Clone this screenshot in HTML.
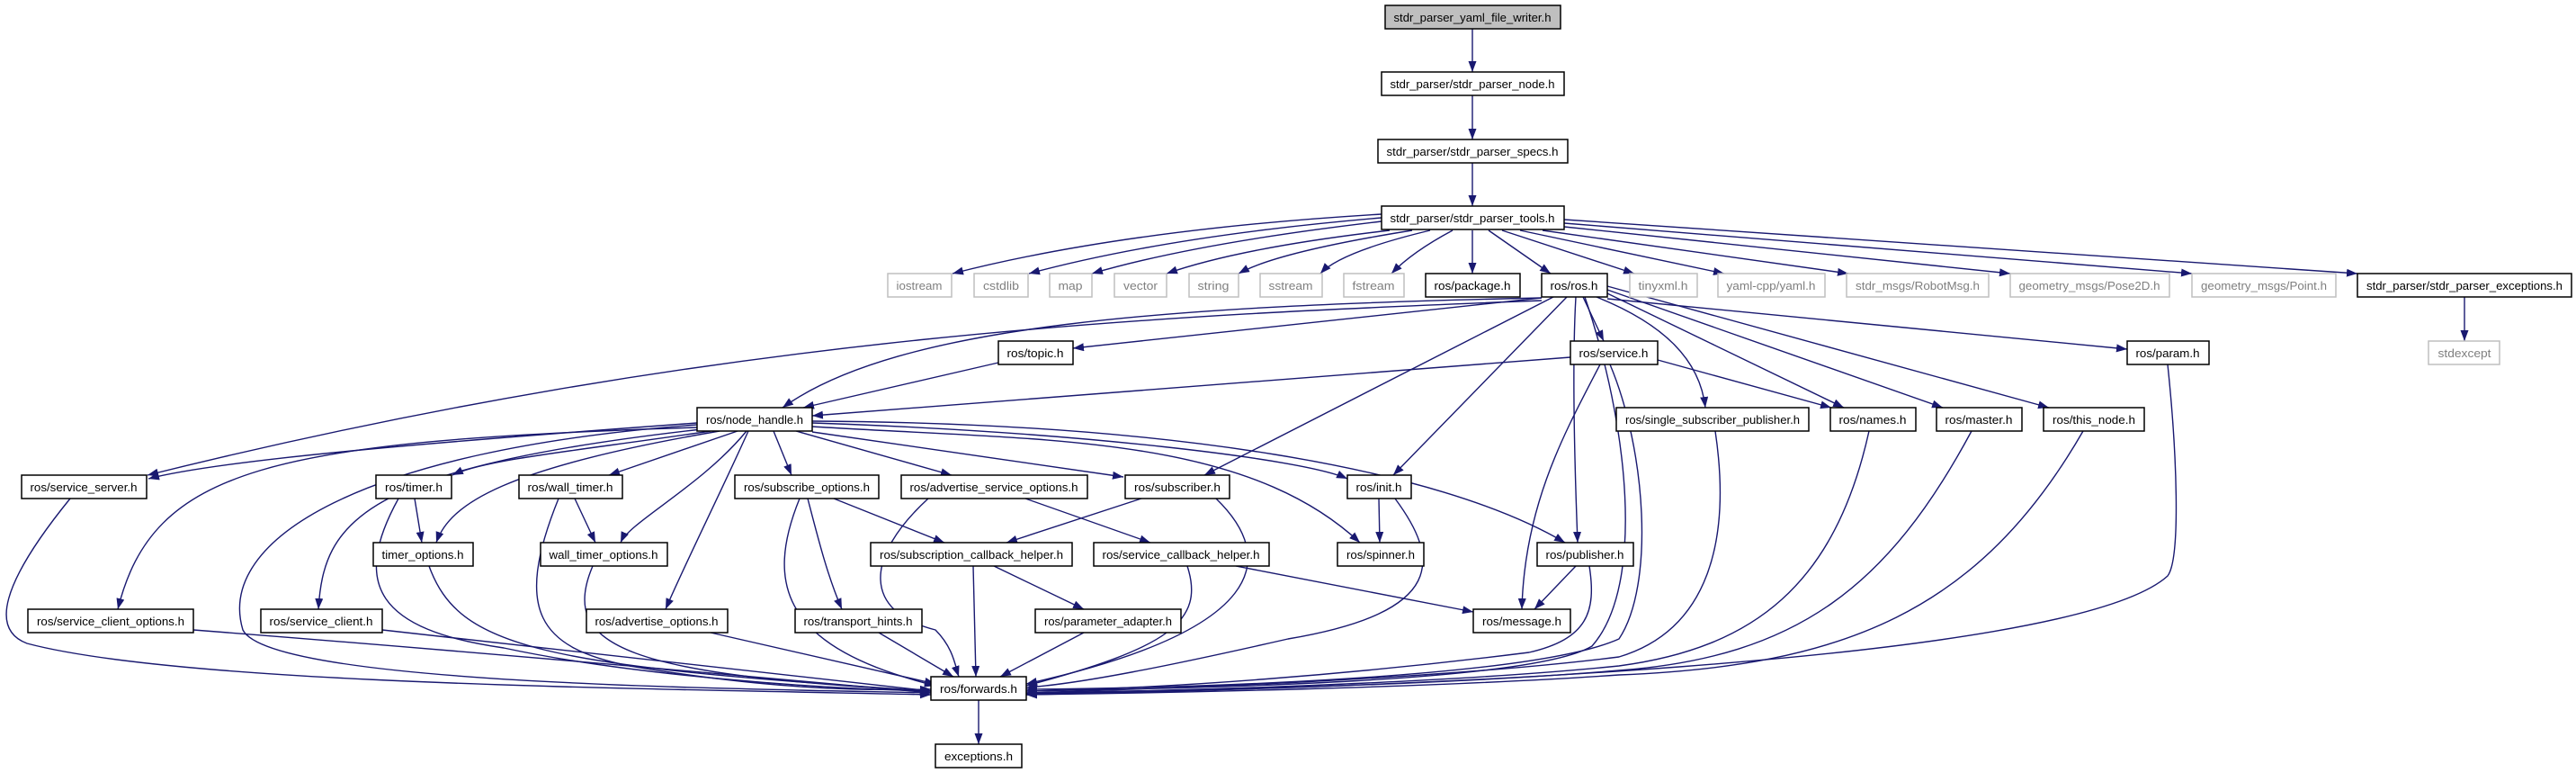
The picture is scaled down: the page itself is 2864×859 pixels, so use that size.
<!DOCTYPE html>
<html><head><meta charset="utf-8"><style>
html,body{margin:0;padding:0;background:#fff;}
svg{display:block;}
text{font-family:"Liberation Sans",Arial,sans-serif;font-size:13px;}
</style></head><body>
<svg width="2864" height="859" viewBox="0 0 2864 859" xmlns="http://www.w3.org/2000/svg">
<defs>
<marker id="a" markerUnits="userSpaceOnUse" markerWidth="14" markerHeight="10" refX="12" refY="4.5" orient="auto">
<path d="M0,0 L12,4.5 L0,9 z" fill="#191970"/>
</marker>
</defs>
<g fill="none" stroke="#191970" stroke-width="1.4" marker-end="url(#a)">
<path d="M1637,32 L1637,80"/>
<path d="M1637,106 L1637,155"/>
<path d="M1637,181 L1637,229"/>
<!-- tools -->
<path d="M1536,238 Q1250,255 1059,304"/>
<path d="M1536,242 Q1300,262 1144,304"/>
<path d="M1536,246 Q1330,270 1214,304"/>
<path d="M1545,256 Q1380,275 1297,304"/>
<path d="M1570,256 Q1420,280 1377,304"/>
<path d="M1590,256 Q1490,280 1468,304"/>
<path d="M1615,256 Q1570,280 1547,304"/>
<path d="M1637,256 L1637,304"/>
<path d="M1655,256 L1724,304"/>
<path d="M1670,256 L1817,304"/>
<path d="M1690,256 L1917,304"/>
<path d="M1715,256 L2055,304"/>
<path d="M1739,252 L2235,304"/>
<path d="M1739,248 L2437,304"/>
<path d="M1739,244 L2621,304"/>
<path d="M2740,330 L2740,379"/>
<!-- ros.h -->
<path d="M1714,331 Q1400,365 1193,387"/>
<path d="M1714,331 C1300,340 1000,360 870,453"/>
<path d="M1714,334 C1300,350 800,370 164,528"/>
<path d="M1760,330 L1783,379"/>
<path d="M1787,332 L2365,388"/>
<path d="M1727,330 L1339,528"/>
<path d="M1742,330 L1549,528"/>
<path d="M1752,330 C1748,400 1750,500 1754,603"/>
<path d="M1775,330 C1850,360 1890,400 1896,453"/>
<path d="M1787,326 L2050,453"/>
<path d="M1787,322 L2160,453"/>
<path d="M1787,318 L2278,453"/>
<path d="M1762,330 C1810,470 1830,650 1770,718 C1700,760 1300,765 1141,768"/>
<!-- topic/service -->
<path d="M1110,403 L893,453"/>
<path d="M1746,397 L903,462"/>
<path d="M1843,400 L2036,453"/>
<path d="M1779,405 C1740,480 1695,560 1692,677"/>
<path d="M1790,405 C1830,500 1840,650 1800,710 C1700,755 1300,765 1141,766"/>
<path d="M2410,405 C2420,500 2425,620 2410,640 C2300,740 1500,765 1141,772"/>
<!-- node_handle -->
<path d="M775,470 C500,490 250,510 165,532"/>
<path d="M790,479 C650,500 540,510 503,528"/>
<path d="M820,479 L677,528"/>
<path d="M860,479 L880,528"/>
<path d="M885,479 L1058,528"/>
<path d="M903,480 L1249,530"/>
<path d="M903,470 C1200,480 1450,510 1498,532"/>
<path d="M903,474 C1150,490 1380,480 1512,603"/>
<path d="M903,468 C1300,470 1600,520 1740,603"/>
<path d="M775,475 C300,490 170,520 131,677"/>
<path d="M780,477 C400,520 360,580 354,677"/>
<path d="M800,479 C560,520 500,560 485,603"/>
<path d="M830,479 C780,540 700,580 690,603"/>
<path d="M832,479 C800,550 760,630 740,677"/>
<path d="M775,472 C400,500 240,600 270,700 C300,760 800,765 1035,770"/>
<!-- row7 -->
<path d="M78,554 C0,650 -10,700 30,715 C200,760 700,765 1035,772"/>
<path d="M461,554 L469,603"/>
<path d="M443,554 C390,650 420,700 560,720 C700,750 900,765 1035,768"/>
<path d="M639,554 L662,603"/>
<path d="M621,554 C570,680 600,720 700,740 C850,765 950,768 1035,766"/>
<path d="M927,554 L1050,603"/>
<path d="M898,554 C910,600 920,640 936,677"/>
<path d="M889,554 C850,650 870,720 1040,762"/>
<path d="M1140,554 L1279,603"/>
<path d="M1032,554 C960,620 960,680 1040,700 C1060,720 1062,740 1066,752"/>
<path d="M1269,554 L1119,603"/>
<path d="M1352,554 C1420,620 1410,700 1141,760"/>
<path d="M1533,554 L1534,603"/>
<path d="M1551,554 C1600,620 1610,680 1432,710 C1300,740 1200,760 1141,764"/>
<!-- row8 -->
<path d="M1105,629 L1205,677"/>
<path d="M1082,629 L1085,752"/>
<path d="M1320,629 C1340,690 1300,720 1141,762"/>
<path d="M1374,629 L1638,680"/>
<path d="M477,629 C510,720 600,740 1035,768"/>
<path d="M659,629 C620,720 700,750 1035,768"/>
<path d="M1752,629 L1706,677"/>
<path d="M1767,629 C1775,680 1765,710 1700,725 C1500,750 1300,765 1141,768"/>
<!-- row9 -->
<path d="M215,700 Q600,730 1035,770"/>
<path d="M425,700 Q700,730 1035,768"/>
<path d="M790,703 L1040,760"/>
<path d="M977,703 L1060,752"/>
<path d="M1205,703 L1112,752"/>
<!-- row6 right -->
<path d="M1907,479 C1925,600 1900,700 1800,730 C1600,755 1300,765 1141,770"/>
<path d="M2078,479 C2040,650 1950,720 1800,740 C1600,760 1300,768 1141,770"/>
<path d="M2192,479 C2100,650 2000,730 1800,745 C1600,762 1300,768 1141,771"/>
<path d="M2316,479 C2200,680 2050,740 1800,750 C1600,764 1300,770 1141,772"/>
<path d="M1088,778 L1088,827"/>
</g>
<g stroke="#000" stroke-width="1.5" fill="#fff">
<rect x="1540" y="6" width="195" height="26" fill="#bfbfbf"/>
<rect x="1536" y="80" width="203" height="26"/>
<rect x="1532" y="155" width="211" height="26"/>
<rect x="1536" y="229" width="203" height="26"/>
<rect x="1585" y="304" width="105" height="26"/>
<rect x="1714" y="304" width="73" height="26"/>
<rect x="2621" y="304" width="238" height="26"/>
<rect x="1110" y="379" width="83" height="26"/>
<rect x="1746" y="379" width="97" height="26"/>
<rect x="2365" y="379" width="91" height="26"/>
<rect x="775" y="453" width="128" height="26"/>
<rect x="1797" y="453" width="214" height="26"/>
<rect x="2035" y="453" width="95" height="26"/>
<rect x="2153" y="453" width="95" height="26"/>
<rect x="2272" y="453" width="112" height="26"/>
<rect x="24" y="528" width="139" height="26"/>
<rect x="418" y="528" width="84" height="26"/>
<rect x="577" y="528" width="115" height="26"/>
<rect x="817" y="528" width="160" height="26"/>
<rect x="1002" y="528" width="207" height="26"/>
<rect x="1251" y="528" width="116" height="26"/>
<rect x="1498" y="528" width="71" height="26"/>
<rect x="415" y="603" width="111" height="26"/>
<rect x="601" y="603" width="141" height="26"/>
<rect x="968" y="603" width="224" height="26"/>
<rect x="1216" y="603" width="195" height="26"/>
<rect x="1487" y="603" width="96" height="26"/>
<rect x="1709" y="603" width="107" height="26"/>
<rect x="31" y="677" width="184" height="26"/>
<rect x="290" y="677" width="135" height="26"/>
<rect x="652" y="677" width="157" height="26"/>
<rect x="884" y="677" width="141" height="26"/>
<rect x="1151" y="677" width="162" height="26"/>
<rect x="1638" y="677" width="108" height="26"/>
<rect x="1035" y="752" width="106" height="26"/>
<rect x="1040" y="827" width="96" height="26"/>
</g>
<g stroke="#bfbfbf" stroke-width="1.5" fill="#fff">
<rect x="987" y="304" width="71" height="26"/>
<rect x="1083" y="304" width="60" height="26"/>
<rect x="1167" y="304" width="47" height="26"/>
<rect x="1239" y="304" width="58" height="26"/>
<rect x="1322" y="304" width="55" height="26"/>
<rect x="1401" y="304" width="69" height="26"/>
<rect x="1494" y="304" width="67" height="26"/>
<rect x="1812" y="304" width="75" height="26"/>
<rect x="1910" y="304" width="119" height="26"/>
<rect x="2053" y="304" width="158" height="26"/>
<rect x="2235" y="304" width="177" height="26"/>
<rect x="2437" y="304" width="160" height="26"/>
<rect x="2700" y="379" width="79" height="26"/>
</g>
<g text-anchor="middle" fill="#000">
<text x="1637" y="24" textLength="175" lengthAdjust="spacingAndGlyphs">stdr_parser_yaml_file_writer.h</text>
<text x="1637" y="98" textLength="183" lengthAdjust="spacingAndGlyphs">stdr_parser/stdr_parser_node.h</text>
<text x="1637" y="173" textLength="191" lengthAdjust="spacingAndGlyphs">stdr_parser/stdr_parser_specs.h</text>
<text x="1637" y="247" textLength="183" lengthAdjust="spacingAndGlyphs">stdr_parser/stdr_parser_tools.h</text>
<text x="1637" y="322" textLength="85" lengthAdjust="spacingAndGlyphs">ros/package.h</text>
<text x="1750" y="322" textLength="53" lengthAdjust="spacingAndGlyphs">ros/ros.h</text>
<text x="2740" y="322" textLength="218" lengthAdjust="spacingAndGlyphs">stdr_parser/stdr_parser_exceptions.h</text>
<text x="1151" y="397" textLength="63" lengthAdjust="spacingAndGlyphs">ros/topic.h</text>
<text x="1794" y="397" textLength="77" lengthAdjust="spacingAndGlyphs">ros/service.h</text>
<text x="2410" y="397" textLength="71" lengthAdjust="spacingAndGlyphs">ros/param.h</text>
<text x="839" y="471" textLength="108" lengthAdjust="spacingAndGlyphs">ros/node_handle.h</text>
<text x="1904" y="471" textLength="194" lengthAdjust="spacingAndGlyphs">ros/single_subscriber_publisher.h</text>
<text x="2082" y="471" textLength="75" lengthAdjust="spacingAndGlyphs">ros/names.h</text>
<text x="2200" y="471" textLength="75" lengthAdjust="spacingAndGlyphs">ros/master.h</text>
<text x="2328" y="471" textLength="92" lengthAdjust="spacingAndGlyphs">ros/this_node.h</text>
<text x="93" y="546" textLength="119" lengthAdjust="spacingAndGlyphs">ros/service_server.h</text>
<text x="460" y="546" textLength="64" lengthAdjust="spacingAndGlyphs">ros/timer.h</text>
<text x="634" y="546" textLength="95" lengthAdjust="spacingAndGlyphs">ros/wall_timer.h</text>
<text x="897" y="546" textLength="140" lengthAdjust="spacingAndGlyphs">ros/subscribe_options.h</text>
<text x="1105" y="546" textLength="187" lengthAdjust="spacingAndGlyphs">ros/advertise_service_options.h</text>
<text x="1309" y="546" textLength="96" lengthAdjust="spacingAndGlyphs">ros/subscriber.h</text>
<text x="1533" y="546" textLength="51" lengthAdjust="spacingAndGlyphs">ros/init.h</text>
<text x="470" y="621" textLength="91" lengthAdjust="spacingAndGlyphs">timer_options.h</text>
<text x="671" y="621" textLength="121" lengthAdjust="spacingAndGlyphs">wall_timer_options.h</text>
<text x="1080" y="621" textLength="204" lengthAdjust="spacingAndGlyphs">ros/subscription_callback_helper.h</text>
<text x="1313" y="621" textLength="175" lengthAdjust="spacingAndGlyphs">ros/service_callback_helper.h</text>
<text x="1535" y="621" textLength="76" lengthAdjust="spacingAndGlyphs">ros/spinner.h</text>
<text x="1762" y="621" textLength="87" lengthAdjust="spacingAndGlyphs">ros/publisher.h</text>
<text x="123" y="695" textLength="164" lengthAdjust="spacingAndGlyphs">ros/service_client_options.h</text>
<text x="357" y="695" textLength="115" lengthAdjust="spacingAndGlyphs">ros/service_client.h</text>
<text x="730" y="695" textLength="137" lengthAdjust="spacingAndGlyphs">ros/advertise_options.h</text>
<text x="954" y="695" textLength="121" lengthAdjust="spacingAndGlyphs">ros/transport_hints.h</text>
<text x="1232" y="695" textLength="142" lengthAdjust="spacingAndGlyphs">ros/parameter_adapter.h</text>
<text x="1692" y="695" textLength="88" lengthAdjust="spacingAndGlyphs">ros/message.h</text>
<text x="1088" y="770" textLength="86" lengthAdjust="spacingAndGlyphs">ros/forwards.h</text>
<text x="1088" y="845" textLength="76" lengthAdjust="spacingAndGlyphs">exceptions.h</text>
</g>
<g text-anchor="middle" fill="#7f7f7f">
<text x="1022" y="322" textLength="51" lengthAdjust="spacingAndGlyphs">iostream</text>
<text x="1113" y="322" textLength="40" lengthAdjust="spacingAndGlyphs">cstdlib</text>
<text x="1190" y="322" textLength="27" lengthAdjust="spacingAndGlyphs">map</text>
<text x="1268" y="322" textLength="38" lengthAdjust="spacingAndGlyphs">vector</text>
<text x="1349" y="322" textLength="35" lengthAdjust="spacingAndGlyphs">string</text>
<text x="1435" y="322" textLength="49" lengthAdjust="spacingAndGlyphs">sstream</text>
<text x="1527" y="322" textLength="47" lengthAdjust="spacingAndGlyphs">fstream</text>
<text x="1849" y="322" textLength="55" lengthAdjust="spacingAndGlyphs">tinyxml.h</text>
<text x="1969" y="322" textLength="99" lengthAdjust="spacingAndGlyphs">yaml-cpp/yaml.h</text>
<text x="2132" y="322" textLength="138" lengthAdjust="spacingAndGlyphs">stdr_msgs/RobotMsg.h</text>
<text x="2323" y="322" textLength="157" lengthAdjust="spacingAndGlyphs">geometry_msgs/Pose2D.h</text>
<text x="2517" y="322" textLength="140" lengthAdjust="spacingAndGlyphs">geometry_msgs/Point.h</text>
<text x="2740" y="397" textLength="59" lengthAdjust="spacingAndGlyphs">stdexcept</text>
</g>
</svg>
</body></html>
